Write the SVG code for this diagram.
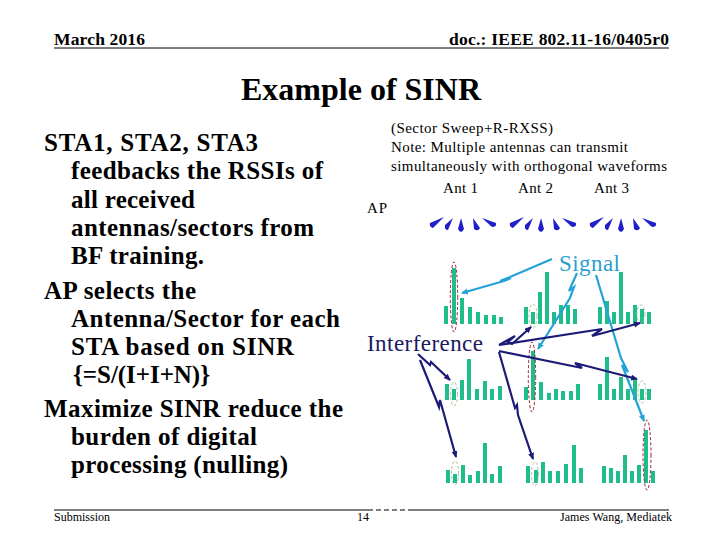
<svg xmlns="http://www.w3.org/2000/svg" width="720" height="540" viewBox="0 0 720 540">
<style>
text{font-family:"Liberation Serif",serif;fill:#000}
.h{font-size:17.500px;font-weight:bold}
.b{font-size:25px;font-weight:bold}
.n{font-size:15px}
.f{font-size:12px}
.bar{fill:#1fbd8c}
.r{fill:none;stroke:#a02030;stroke-width:1;stroke-dasharray:3 2}
.g{fill:none;stroke:#a8c890;stroke-width:1;stroke-dasharray:3 2}
.c{fill:none;stroke:#24a3d8;stroke-width:2.2}
.d{fill:none;stroke:#1c1c78;stroke-width:2.2}
.ant{fill:#2020c8}
</style>
<defs>
<marker id="ca" markerUnits="userSpaceOnUse" markerWidth="9" markerHeight="8" refX="6" refY="3" orient="auto"><path d="M0 0L7 3L0 6Z" fill="#24a3d8"/></marker>
<marker id="da" markerUnits="userSpaceOnUse" markerWidth="9" markerHeight="8" refX="6" refY="3" orient="auto"><path d="M0 0L7 3L0 6Z" fill="#1c1c78"/></marker>
<g id="fan">
<path d="M-17 -1L-31 5Q-32 9 -28 10Z" class="ant"/>
<path d="M-8 0L-16 7Q-17 12 -13 12Z" class="ant"/>
<path d="M0 0L-3 11Q0 17 3 11Z" class="ant"/>
<path d="M12 0L13 11Q17 14 19 10Z" class="ant"/>
<path d="M21 0L31 9Q36 9 35 5Z" class="ant"/>
</g>
</defs>
<g id="header">
<text class="h" x="54" y="45" textLength="91">March 2016</text>
<text class="h" x="449" y="45" textLength="220">doc.: IEEE 802.11-16/0405r0</text>
<path d="M54 48H669" stroke="#000"/>
<text x="241" y="100" font-size="32" font-weight="bold" textLength="240">Example of SINR</text>
</g>
<g id="body">
<text class="b" x="44" y="151" textLength="214">STA1, STA2, STA3</text>
<text class="b" x="71" y="179" textLength="252">feedbacks the RSSIs of</text>
<text class="b" x="71" y="208" textLength="124">all received</text>
<text class="b" x="71" y="236" textLength="243">antennas/sectors from</text>
<text class="b" x="71" y="264" textLength="133">BF training.</text>
<text class="b" x="44" y="299" textLength="152">AP selects the</text>
<text class="b" x="71" y="327" textLength="269">Antenna/Sector for each</text>
<text class="b" x="71" y="355" textLength="223">STA based on SINR</text>
<text class="b" x="73" y="383" textLength="137">{=S/(I+I+N)}</text>
<text class="b" x="44" y="417" textLength="299">Maximize SINR reduce the</text>
<text class="b" x="71" y="445" textLength="186">burden of digital</text>
<text class="b" x="71" y="473" textLength="217">processing (nulling)</text>
</g>
<g id="note">
<text class="n" x="391" y="133" textLength="162">(Sector Sweep+R-RXSS)</text>
<text class="n" x="391" y="152" textLength="237">Note: Multiple antennas can transmit</text>
<text class="n" x="391" y="171" textLength="276">simultaneously with orthogonal waveforms</text>
<text class="n" x="443" y="193" textLength="35">Ant 1</text>
<text class="n" x="518" y="193" textLength="35">Ant 2</text>
<text class="n" x="594" y="193" textLength="35">Ant 3</text>
<text class="n" x="367" y="213" textLength="20">AP</text>
</g>
<g id="antennas">
<use href="#fan" x="461" y="218"/>
<use href="#fan" x="541" y="218"/>
<use href="#fan" x="621" y="218"/>
</g>
<g id="bars">
<path class="bar" d="M444 306h4v18h-4zM452 268h4v56h-4zM460 298h4v26h-4zM468 307h4v17h-4zM476 312h4v12h-4zM484 315h4v9h-4zM492 315h4v9h-4zM499 317h4v7h-4z"/>
<path class="bar" d="M524 307h4v17h-4zM531 312h4v12h-4zM538 292h4v32h-4zM545 272h4v52h-4zM552 312h4v12h-4zM559 305h4v19h-4zM566 305h4v19h-4zM573 309h4v15h-4z"/>
<path class="bar" d="M598 307h4v17h-4zM605 301h4v23h-4zM612 312h4v12h-4zM619 272h4v52h-4zM626 312h4v12h-4zM633 305h4v19h-4zM640 309h4v15h-4zM647 312h4v12h-4z"/>
<path class="bar" d="M445 384h4v16h-4zM452 389h4v11h-4zM460 380h4v20h-4zM467 359h4v41h-4zM475 389h4v11h-4zM483 381h4v19h-4zM490 389h4v11h-4zM498 386h4v14h-4z"/>
<path class="bar" d="M524 387h4v13h-4zM531 351h4v49h-4zM539 382h4v18h-4zM547 393h4v7h-4zM554 389h4v11h-4zM561 391h4v9h-4zM569 391h4v9h-4zM576 384h4v16h-4z"/>
<path class="bar" d="M598 384h4v16h-4zM605 357h4v43h-4zM612 389h4v11h-4zM619 377h4v23h-4zM626 389h4v11h-4zM633 380h4v20h-4zM640 389h4v11h-4zM647 389h4v11h-4z"/>
<path class="bar" d="M446 470h4v13h-4zM453 474h4v9h-4zM461 465h4v18h-4zM468 475h4v8h-4zM476 471h4v12h-4zM483 443h4v40h-4zM490 474h4v9h-4zM498 466h4v17h-4z"/>
<path class="bar" d="M526 466h4v17h-4zM534 470h4v13h-4zM541 462h4v21h-4zM548 471h4v12h-4zM556 471h4v12h-4zM564 464h4v19h-4zM572 445h4v38h-4zM579 468h4v15h-4z"/>
<path class="bar" d="M602 466h4v17h-4zM609 468h4v15h-4zM616 471h4v12h-4zM623 455h4v28h-4zM630 471h4v12h-4zM637 465h4v18h-4zM644 430h4v53h-4zM651 471h4v12h-4z"/>
</g>
<g id="ellipses">
<ellipse class="r" cx="454" cy="297" rx="3.700" ry="35"/>
<ellipse class="r" cx="532" cy="377" rx="3.700" ry="35"/>
<ellipse class="r" cx="647" cy="455" rx="4" ry="35"/>
<ellipse class="g" cx="533" cy="316" rx="4" ry="12"/>
<ellipse class="g" cx="641" cy="314" rx="4" ry="9"/>
<ellipse class="g" cx="454" cy="394" rx="3.500" ry="12"/>
<ellipse class="g" cx="642" cy="392" rx="4" ry="11"/>
<ellipse class="g" cx="455" cy="473" rx="3.500" ry="12"/>
<ellipse class="g" cx="535" cy="474" rx="3.500" ry="12"/>
</g>
<g id="connectors">
<path class="c" d="M552 259L510 277L500 281L511 278L504 281L462 293" marker-end="url(#ca)"/>
<path class="c" d="M577 273L569 291L574 287L570 298L538 349" marker-end="url(#ca)"/>
<path class="c" d="M596 275L621 358L628 372L622 365L644 421" marker-end="url(#ca)"/>
<path class="d" d="M499 345L515 336L508 342L512 344L531 327" marker-end="url(#da)"/>
<path class="d" d="M499 345L602 329L592 336L640 323" marker-end="url(#da)"/>
<path class="d" d="M499 351L582 368L575 363L637 379" marker-end="url(#da)"/>
<path class="d" d="M418 354L430 365L431 362L450 380" marker-end="url(#da)"/>
<path class="d" d="M420 360L439 407L440 400L456 457" marker-end="url(#da)"/>
<path class="d" d="M499 352L515 408L517 405L518 415L533 459" marker-end="url(#da)"/>
</g>
<g id="labels">
<text x="559" y="271" font-size="23" textLength="61" style="fill:#2a9fd0">Signal</text>
<text x="367" y="351" font-size="23" textLength="116" style="fill:#1a1a60">Interference</text>
</g>
<g id="footer">
<text class="f" x="54" y="521" textLength="56">Submission</text>
<path d="M54 510H368" stroke="#000"/>
<path d="M368 510H408" stroke="#000" stroke-dasharray="5 3"/>
<path d="M408 510H669" stroke="#000"/>
<text class="f" x="357" y="521">14</text>
<text class="f" x="560" y="521" textLength="112">James Wang, Mediatek</text>
</g>
</svg>
